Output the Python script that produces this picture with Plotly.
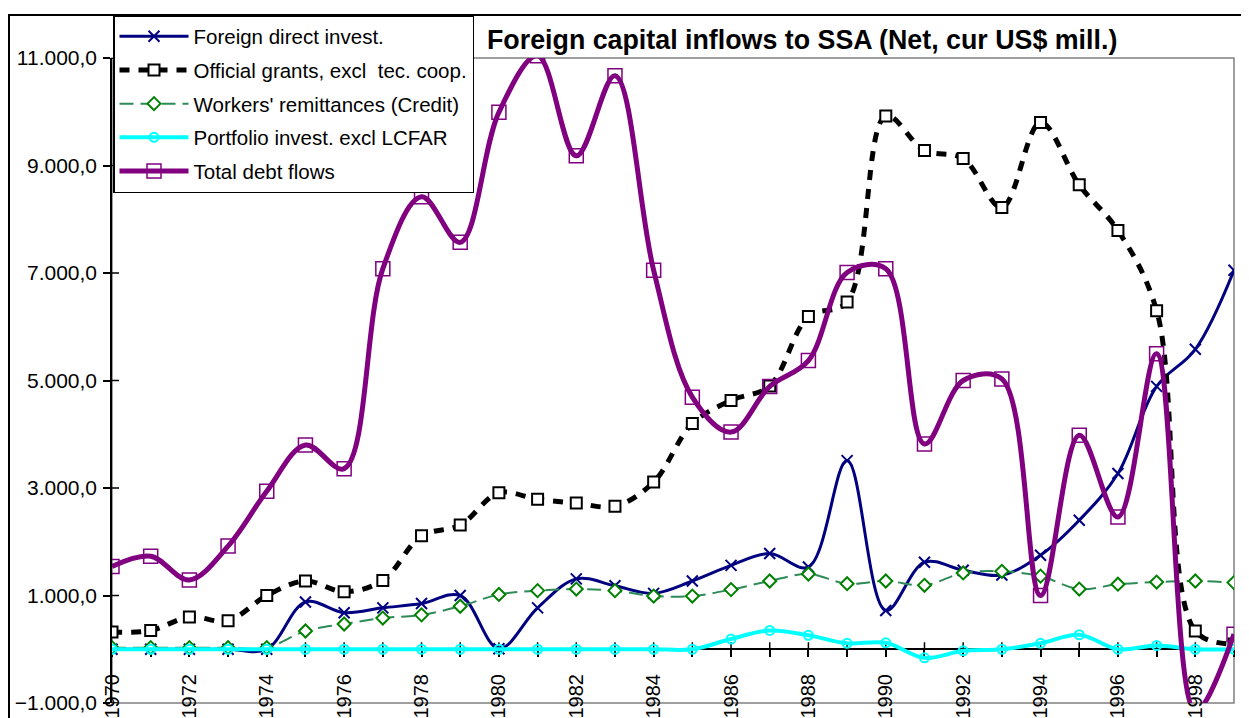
import plotly.graph_objects as go

# data (net flows, current US$ million)
years = list(range(1970, 2000))
fdi = [0, 0, 0, 0, 0, 880, 680, 770, 850, 1000, 10, 770, 1310, 1180, 1040,
       1270, 1560, 1780, 1530, 3510, 720, 1620, 1470, 1380, 1750, 2400, 3270, 4890, 5580, 7050]
grants = [320, 350, 600, 530, 1000, 1270, 1070, 1280, 2110, 2310, 2910, 2790, 2720, 2660, 3110,
          4200, 4630, 4900, 6190, 6460, 9920, 9280, 9130, 8220, 9800, 8640, 7790, 6300, 340, 100]
remit = [30, 30, 30, 30, 30, 340, 470, 580, 640, 800, 1020, 1090, 1120, 1090, 990,
         990, 1110, 1270, 1400, 1220, 1270, 1190, 1420, 1450, 1360, 1120, 1210, 1250, 1270, 1240]
portfolio = [0, 0, 0, 0, 0, 0, 0, 0, 0, 0, 0, 0, 0, 0, 0,
             0, 190, 350, 260, 110, 120, -160, -30, 0, 110, 270, 0, 70, 0, 0]
debt = [1540, 1730, 1290, 1920, 2940, 3800, 3360, 7080, 8420, 7570, 9990, 11040, 9180, 10670, 7050,
        4690, 4040, 4890, 5370, 7010, 7080, 3820, 5000, 5030, 1000, 3980, 2460, 5500, -1150, 280]

y_ticks = [-1000, 1000, 3000, 5000, 7000, 9000, 11000]
x_labels = [str(y) if y % 2 == 0 else "" for y in years]

W, H = 1249, 718
OFF = 8  # page body margin: the figure is drawn 8px in from the window corner
# plot area in window pixels: x 112..1234, y 58..703
L, R, T, B = 112 - OFF, W - (1234 - OFF), 58 - OFF, H - (703 - OFF)
pw, ph = W - L - R, H - T - B
ymin, ymax = -1000, 11000


def px_x(px):
    # window pixel -> paper x
    return (px - OFF - L) / pw


def px_y(py):
    # window pixel -> paper y
    return (H - B - (py - OFF)) / ph


font = "Liberation Sans, Arial, sans-serif"

fig = go.Figure()

fig.add_trace(go.Scatter(
    x=years, y=fdi, name="Foreign direct invest.", mode="lines+markers",
    line=dict(color="#000080", width=3, shape="spline", smoothing=1),
    marker=dict(symbol="x-thin", size=11, line=dict(color="#000080", width=2)),
    legendgroup="fdi"))

fig.add_trace(go.Scatter(
    x=years, y=grants, name="Official grants, excl\u00a0 tec. coop.", mode="lines+markers",
    line=dict(color="black", width=5, dash="10px,9px", shape="spline", smoothing=1),
    marker=dict(symbol="square", size=11, color="white", line=dict(color="black", width=2)),
    legendgroup="grants"))

fig.add_trace(go.Scatter(
    x=years, y=remit, name="Workers' remittances (Credit)", mode="lines+markers",
    line=dict(color="#2E8B57", width=2, dash="14px,7px", shape="spline", smoothing=1),
    marker=dict(symbol="diamond", size=10, color="white", line=dict(color="#008000", width=2)),
    legendgroup="remit"))

fig.add_trace(go.Scatter(
    x=years, y=portfolio, name="Portfolio invest. excl LCFAR", mode="lines+markers",
    line=dict(color="#00FFFF", width=4, shape="spline", smoothing=1),
    marker=dict(symbol="circle-open", size=9, color="#00FFFF", line=dict(width=2)),
    legendgroup="portfolio"))

fig.add_trace(go.Scatter(
    x=years, y=debt, name="Total debt flows", mode="lines+markers",
    line=dict(color="#800080", width=5, shape="spline", smoothing=1),
    marker=dict(symbol="square-open", size=14, color="#800080", line=dict(width=1.5)),
    legendgroup="debt"))

shapes = [
    # chart frame
    dict(type="rect", xref="paper", yref="paper", x0=px_x(9), x1=px_x(1275),
         y0=px_y(740), y1=px_y(15), line=dict(color="black", width=2), layer="below"),
    # plot area border
    dict(type="rect", xref="paper", yref="paper", x0=0, x1=1, y0=0, y1=1,
         line=dict(color="#808080", width=1.5), layer="below"),
]
# upper halves of the crossing tick marks
up = 7 / ph * (ymax - ymin)
right = 7 / pw * (years[-1] - years[0])
for yr in years:
    shapes.append(dict(type="line", xref="x", yref="y", x0=yr, x1=yr, y0=0, y1=up,
                       line=dict(color="black", width=1.5), layer="below"))
for v in y_ticks:
    shapes.append(dict(type="line", xref="x", yref="y", x0=years[0], x1=years[0] + right,
                       y0=v, y1=v, line=dict(color="black", width=1.5), layer="below"))

fig.update_layout(
    width=W, height=H,
    margin=dict(l=L, r=R, t=T, b=B, autoexpand=False),
    paper_bgcolor="white", plot_bgcolor="white",
    font=dict(family=font, size=20, color="black"),
    separators=",.",
    showlegend=True,
    legend=dict(x=px_x(113), y=px_y(15), xanchor="left", yanchor="top",
                bgcolor="white", bordercolor="black", borderwidth=1.5,
                font=dict(family=font, size=20.5, color="black"),
                itemwidth=69, tracegroupgap=4, traceorder="grouped"),
    shapes=shapes,
    annotations=[dict(
        text="<b>Foreign capital inflows to SSA (Net, cur US$ mill.)</b>",
        xref="paper", yref="paper", x=px_x(485), y=px_y(40),
        xanchor="left", yanchor="middle", showarrow=False,
        font=dict(family=font, size=26.8, color="black"))],
)

fig.update_xaxes(
    range=[years[0], years[-1]], tickvals=years, ticktext=x_labels, tickangle=-90,
    anchor="free", position=(0 - ymin) / (ymax - ymin),
    showline=True, linecolor="black", linewidth=1.5,
    ticks="outside", ticklen=7, tickwidth=1.5, tickcolor="black", ticklabelstandoff=9,
    showgrid=False, zeroline=False, layer="below traces", automargin=False,
    tickfont=dict(family=font, size=20, color="black"))

fig.update_yaxes(
    range=[ymin, ymax], tickvals=y_ticks, tickformat=",.1f",
    showline=True, linecolor="black", linewidth=1.5,
    ticks="outside", ticklen=7, tickwidth=1.5, tickcolor="black", ticklabelstandoff=2,
    showgrid=False, zeroline=False, layer="below traces", automargin=False,
    tickfont=dict(family=font, size=21, color="black"))

fig.write_html("out.html")
